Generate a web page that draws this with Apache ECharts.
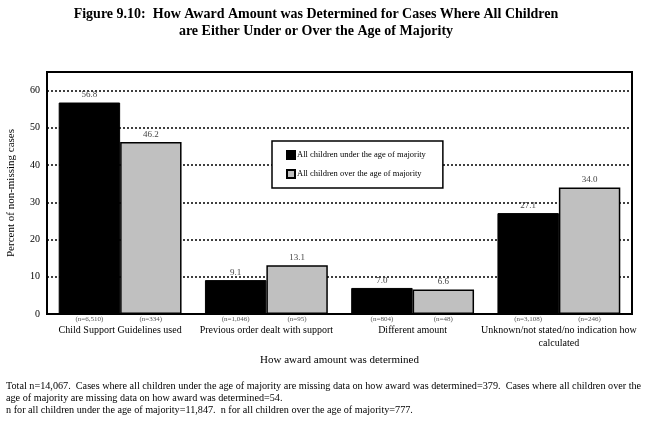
<!DOCTYPE html>
<html><head><meta charset="utf-8">
<script src="https://cdn.jsdelivr.net/npm/echarts@6/dist/echarts.min.js"></script>
<style>html,body{margin:0;padding:0;background:#fff}#c{width:647px;height:424px}</style>
</head><body><div id="c"></div>
<script>
var categories = ['Child Support Guidelines used','Previous order dealt with support','Different amount','Unknown/not stated/no indication how\ncalculated'];
var underValues = [56.8, 9.1, 7.0, 27.1];
var overValues = [46.2, 13.1, 6.6, 34.0];
var underN = ['(n=6,510)','(n=1,046)','(n=804)','(n=3,108)'];
var overN = ['(n=334)','(n=95)','(n=48)','(n=246)'];
var seriesNames = ['All children under the age of majority','All children over the age of majority'];
var yTicks = [0,10,20,30,40,50,60];
var titleText = 'Figure 9.10:  How Award Amount was Determined for Cases Where All Children\nare Either Under or Over the Age of Majority';
var footnote = 'Total n=14,067.  Cases where all children under the age of majority are missing data on how award was determined=379.  Cases where all children over the\nage of majority are missing data on how award was determined=54.\nn for all children under the age of majority=11,847.  n for all children over the age of majority=777.';

var F = '"Liberation Serif","Times New Roman",serif';
var chart = echarts.init(document.getElementById('c'));
function nSeries(stack, labels){
  return {type:'bar', stack:stack, data:labels.map(function(){return 0;}), silent:true,
    barGap:'0%', barCategoryGap:'16%',
    itemStyle:{color:'transparent',borderWidth:0},
    label:{show:true, position:'bottom', distance:2, fontFamily:F, fontSize:7, color:'#555',
      formatter:function(p){return labels[p.dataIndex];}}};
}
chart.setOption({
  animation:false,
  textStyle:{fontFamily:F},
  title:{text:titleText, left:311, top:1, textAlign:'center',
    textStyle:{fontFamily:F, fontSize:14, fontWeight:'bold', color:'#000', lineHeight:17}},
  grid:{left:47, right:15, top:72, bottom:110, outerBoundsMode:'none', containLabel:false,
    show:true, borderColor:'#000', borderWidth:2, backgroundColor:'transparent'},
  legend:{data:seriesNames, orient:'vertical', left:272, top:141, itemWidth:8, itemHeight:8, itemGap:9,
    backgroundColor:'#fff', borderColor:'#000', borderWidth:1.5, padding:[9,17,9,14],
    icon:'rect', textStyle:{fontFamily:F, fontSize:8.5, color:'#000', padding:[0,0,0,-3]}},
  xAxis:{type:'category', data:categories,
    axisLine:{lineStyle:{color:'#000', width:2}}, axisTick:{show:false},
    axisLabel:{interval:0, margin:10, fontFamily:F, fontSize:10, color:'#000', lineHeight:13},
    name:'How award amount was determined', nameLocation:'middle', nameGap:40,
    nameTextStyle:{fontFamily:F, fontSize:11, color:'#000'}},
  yAxis:{type:'value', min:0, max:65, interval:10,
    axisLine:{show:true, lineStyle:{color:'#000', width:2}}, axisTick:{show:false},
    axisLabel:{margin:7, fontFamily:F, fontSize:10, color:'#000',
      formatter:function(v){return yTicks.indexOf(v)>=0 ? String(v) : '';}},
    splitLine:{show:true, lineStyle:{color:'#000', type:[2,2], width:1.5}},
    name:'Percent of non-missing cases', nameLocation:'middle', nameGap:30,
    nameTextStyle:{fontFamily:F, fontSize:11, color:'#000'}},
  series:[
    nSeries('a', underN),
    {name:seriesNames[0], type:'bar', stack:'a', data:underValues, barGap:'0%', barCategoryGap:'16%',
      itemStyle:{color:'#000', borderColor:'#000', borderWidth:1},
      label:{show:true, position:'top', distance:3, fontFamily:F, fontSize:9, color:'#444',
        formatter:function(p){return p.value.toFixed(1);}}},
    nSeries('b', overN),
    {name:seriesNames[1], type:'bar', stack:'b', data:overValues, barGap:'0%', barCategoryGap:'16%',
      itemStyle:{color:'#c0c0c0', borderColor:'#000', borderWidth:1.5},
      label:{show:true, position:'top', distance:3, fontFamily:F, fontSize:9, color:'#444',
        formatter:function(p){return p.value.toFixed(1);}}}
  ],
  graphic:[{type:'text', left:6, top:380, style:{text:footnote, font:'10.2px '+F, fill:'#000', lineHeight:12}}]
});
</script></body></html>
